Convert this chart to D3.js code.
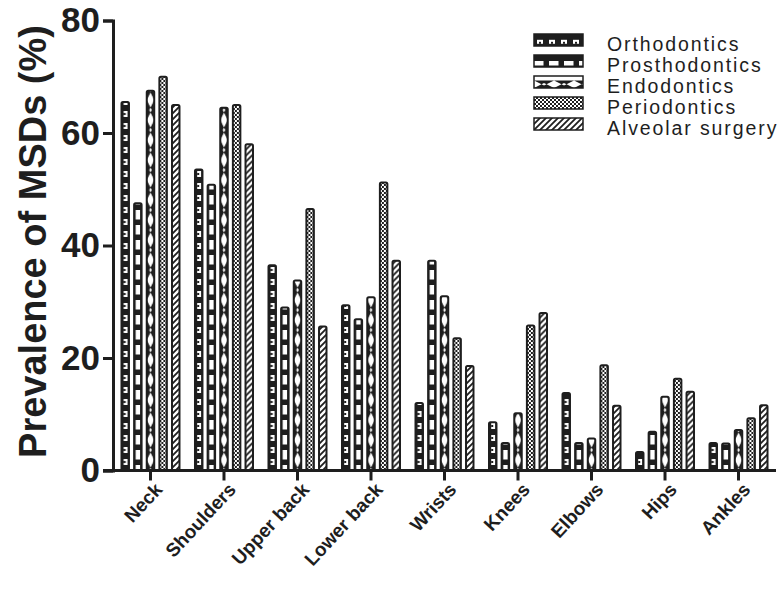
<!DOCTYPE html>
<html>
<head>
<meta charset="utf-8">
<script src="https://cdn.jsdelivr.net/npm/d3@7/dist/d3.min.js"></script>
<style>
  body { margin: 0; background: #fff; }
  text { font-family: "Liberation Sans", Arial, sans-serif; }
</style>
</head>
<body>
<script>
// data
var regions = ["Neck", "Shoulders", "Upper back", "Lower back", "Wrists", "Knees", "Elbows", "Hips", "Ankles"];
var specialties = ["Orthodontics", "Prosthodontics", "Endodontics", "Periodontics", "Alveolar surgery"];
var orthodontics    = [65.5, 53.5, 36.5, 29.4, 12.0,  8.6, 13.8,  3.3,  4.9];
var prosthodontics  = [47.5, 50.8, 29.0, 26.9, 37.3,  4.9,  4.9,  6.9,  4.8];
var endodontics     = [67.5, 64.5, 33.8, 30.8, 31.0, 10.2,  5.7, 13.1,  7.2];
var periodontics    = [70.0, 65.0, 46.5, 51.2, 23.5, 25.8, 18.7, 16.3,  9.3];
var alveolarSurgery = [65.0, 58.0, 25.6, 37.3, 18.6, 28.0, 11.5, 14.0, 11.6];
var yTicks = [0, 20, 40, 60, 80];

var seriesValues = [orthodontics, prosthodontics, endodontics, periodontics, alveolarSurgery];

var width = 781, height = 594;
var ink = "#1e1e1e";

var svg = d3.select("body").append("svg")
  .attr("width", width)
  .attr("height", height);

// fill patterns, one per specialty
var defs = svg.append("defs");
function pat(id, w, h) {
  return defs.append("pattern").attr("id", id)
    .attr("patternUnits", "userSpaceOnUse")
    .attr("width", w).attr("height", h);
}
var p0 = pat("p0", 20, 12);
p0.append("rect").attr("width", 20).attr("height", 12).attr("fill", ink);
p0.append("rect").attr("x", 2.2).attr("y", 3).attr("width", 4).attr("height", 6).attr("fill", "#fff");
p0.append("rect").attr("x", 2.2).attr("y", 5).attr("width", 2).attr("height", 2).attr("fill", ink);

var p1 = pat("p1", 20, 15);
p1.append("rect").attr("width", 20).attr("height", 15).attr("fill", ink);
p1.append("rect").attr("x", 1.5).attr("y", 0).attr("width", 4.5).attr("height", 9.5).attr("fill", "#fff");

var p2 = pat("p2", 20, 20);
p2.append("rect").attr("width", 20).attr("height", 20).attr("fill", "#fff");
p2.append("path").attr("fill", ink)
  .attr("d", "M0,0 L5,10 L0,20 Z M7.5,0 L2.5,10 L7.5,20 Z");

var p3 = pat("p3", 4, 4);
p3.append("rect").attr("width", 4).attr("height", 4).attr("fill", "#fff");
p3.append("rect").attr("width", 2).attr("height", 2).attr("fill", ink);
p3.append("rect").attr("x", 2).attr("y", 2).attr("width", 2).attr("height", 2).attr("fill", ink);

// "/" hatch for the bars, "\" for the legend (the legend swatch is turned 90 degrees)
function hatch(id, dir) {
  var p = pat(id, 6, 6);
  p.append("rect").attr("width", 6).attr("height", 6).attr("fill", "#fff");
  var d = dir > 0
    ? "M-1.5,1.5 L1.5,-1.5 M0,6 L6,0 M4.5,7.5 L7.5,4.5"
    : "M-1.5,4.5 L1.5,7.5 M0,0 L6,6 M4.5,-1.5 L7.5,1.5";
  p.append("path").attr("d", d).attr("stroke", ink).attr("stroke-width", 1.8);
}
hatch("p4", 1);
hatch("p4l", -1);

var padding = {top: 20.5, right: 5, bottom: 123.5, left: 113};
var plotBottom = height - padding.bottom;

var y = d3.scaleLinear().domain([0, 80]).range([plotBottom, padding.top]);
var x0 = d3.scaleBand().domain(regions).range([padding.left, 776]).paddingInner(0).paddingOuter(0.01);
var groupW = 60;
var x1 = d3.scaleBand().domain(specialties).range([-groupW / 2, groupW / 2]).paddingInner(0.25);

// bars
regions.forEach(function(r, i) {
  specialties.forEach(function(s, k) {
    var v = seriesValues[k][i];
    var bx = x0(r) + x0.bandwidth() / 2 + x1(s);
    svg.append("g")
      .attr("transform", "translate(" + (bx + 1) + ",0)")
      .append("rect")
      .attr("x", 0)
      .attr("y", y(v))
      .attr("width", x1.bandwidth() - 2)
      .attr("height", plotBottom - y(v))
      .attr("rx", 1.5)
      .attr("fill", "url(#p" + k + ")")
      .attr("stroke", ink)
      .attr("stroke-width", 2);
  });
});

// y axis
var yAxis = svg.append("g")
  .attr("transform", "translate(" + padding.left + ",0)")
  .call(d3.axisLeft(y).tickValues(yTicks).tickSize(10).tickPadding(3));
yAxis.select(".domain").attr("stroke", ink).attr("stroke-width", 3);
yAxis.selectAll(".tick line").attr("stroke", ink).attr("stroke-width", 3);
yAxis.selectAll(".tick text")
  .attr("fill", ink)
  .attr("font-size", "35px")
  .attr("font-weight", "bold")
  .attr("font-family", "Liberation Sans, Arial, sans-serif");

// x axis
var xAxis = svg.append("g")
  .attr("transform", "translate(0," + plotBottom + ")")
  .call(d3.axisBottom(x0).tickSize(10).tickSizeOuter(0));
xAxis.select(".domain").attr("stroke", ink).attr("stroke-width", 3)
  .attr("d", "M" + (padding.left - 10) + ",0H776");
xAxis.selectAll(".tick line").attr("stroke", ink).attr("stroke-width", 3);
xAxis.selectAll(".tick text")
  .attr("fill", ink)
  .attr("font-size", "19px")
  .attr("font-weight", "bold")
  .attr("font-family", "Liberation Sans, Arial, sans-serif")
  .attr("text-anchor", "end")
  .attr("dy", null)
  .attr("y", 0)
  .attr("transform", "translate(13,20) rotate(-47)");

// y title
svg.append("text")
  .attr("transform", "translate(46," + ((padding.top + plotBottom) / 2 - 4) + ") rotate(-90)")
  .attr("text-anchor", "middle")
  .attr("fill", ink)
  .attr("font-size", "38px")
  .attr("font-weight", "bold")
  .text("Prevalence of MSDs (%)");

// legend
var legend = svg.append("g").attr("class", "legend");
specialties.forEach(function(s, k) {
  var ly = 34 + k * 21;
  legend.append("g")
    .attr("transform", "translate(534," + (ly + 12) + ") rotate(-90)")
    .append("rect")
    .attr("width", 12).attr("height", 49)
    .attr("fill", k === 4 ? "url(#p4l)" : "url(#p" + k + ")")
    .attr("stroke", ink).attr("stroke-width", 1.5);
  legend.append("text")
    .attr("x", 607)
    .attr("y", ly + 17)
    .attr("fill", ink)
    .attr("font-size", "19.5px")
    .attr("letter-spacing", "1.9px")
    .text(s);
});
</script>
</body>
</html>
